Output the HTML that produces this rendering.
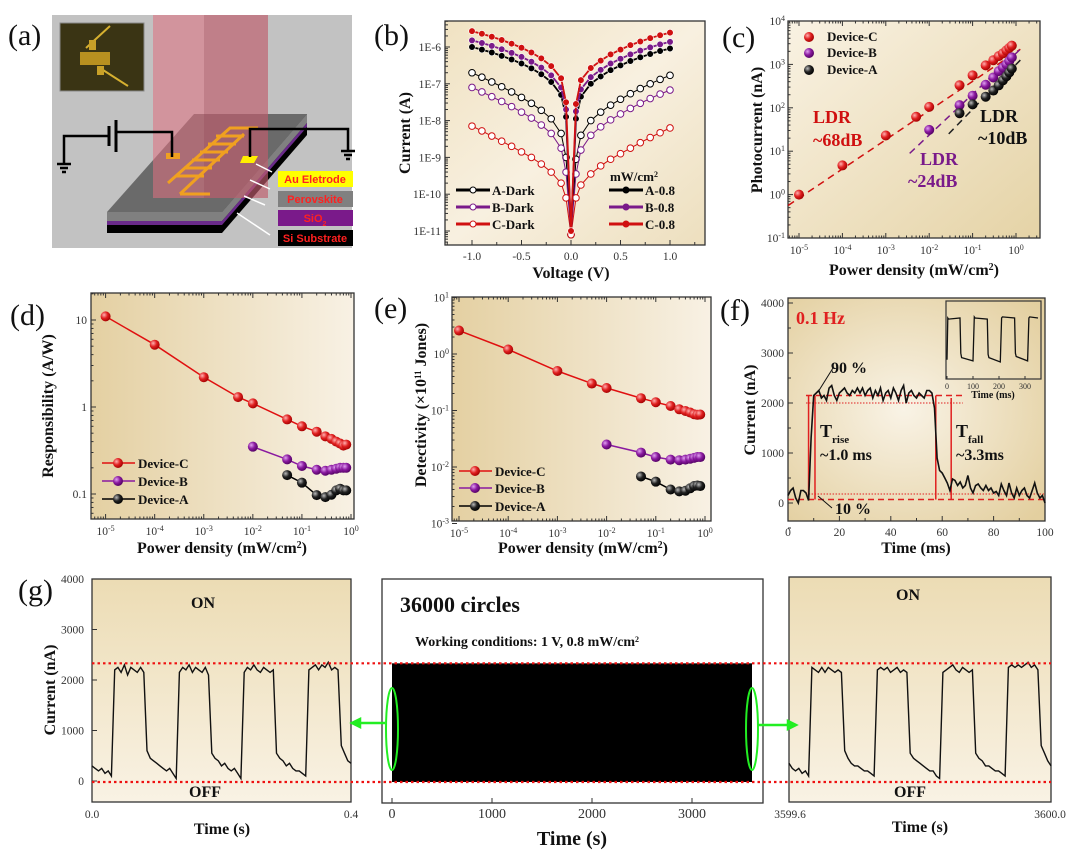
<!DOCTYPE html>
<html><head><meta charset="utf-8"><style>
html,body{margin:0;padding:0;background:#fff;}
svg{display:block;font-family:"Liberation Serif",serif;}
.tk{font-size:11.5px;fill:#333;}
.tt{font-size:16px;font-weight:bold;fill:#111;}
.pl{font-size:30px;fill:#111;}
.lg{font-size:13px;font-weight:bold;fill:#111;}
</style></head><body>
<svg id="fig" width="1080" height="856" viewBox="0 0 1080 856">
<defs>
<linearGradient id="bgB" x1="0" y1="0" x2="1" y2="1"><stop offset="0" stop-color="#f0e2c2"/><stop offset="0.5" stop-color="#f8f0e0"/><stop offset="1" stop-color="#eddfbe"/></linearGradient>
<linearGradient id="bgC" x1="0" y1="0" x2="1" y2="1"><stop offset="0" stop-color="#f9f2e3"/><stop offset="1" stop-color="#e5d3a6"/></linearGradient>
<linearGradient id="bgD" x1="0" y1="0" x2="1" y2="0"><stop offset="0" stop-color="#e4d0a2"/><stop offset="1" stop-color="#f8f1e4"/></linearGradient>
<radialGradient id="bgF" cx="0.45" cy="0.5" r="0.7"><stop offset="0" stop-color="#f9f3e6"/><stop offset="1" stop-color="#e3cf9f"/></radialGradient>
<linearGradient id="bgG" x1="0" y1="0" x2="0" y2="1"><stop offset="0" stop-color="#ecdcb4"/><stop offset="1" stop-color="#f9f2e4"/></linearGradient>
<radialGradient id="ballR" cx="0.35" cy="0.35" r="0.7"><stop offset="0" stop-color="#ffb0b0"/><stop offset="0.5" stop-color="#e02020"/><stop offset="1" stop-color="#a00000"/></radialGradient>
<radialGradient id="ballP" cx="0.35" cy="0.35" r="0.7"><stop offset="0" stop-color="#e0a0f0"/><stop offset="0.5" stop-color="#8a1aa0"/><stop offset="1" stop-color="#500060"/></radialGradient>
<radialGradient id="ballK" cx="0.35" cy="0.35" r="0.7"><stop offset="0" stop-color="#bbbbbb"/><stop offset="0.5" stop-color="#222"/><stop offset="1" stop-color="#000"/></radialGradient>
</defs>

<g>
<rect x="52" y="15" width="300" height="233" fill="#c2c2c2"/>
<rect x="60" y="23" width="84" height="68" fill="#3a3414" stroke="#888" stroke-width="1"/>
<path d="M86 48 L110 26 M103 70 L128 86" stroke="#d6b030" stroke-width="2"/>
<rect x="80" y="52" width="30" height="13" fill="#b89020"/>
<rect x="89" y="40" width="7" height="10" fill="#c8a028"/><rect x="97" y="66" width="7" height="9" fill="#c8a028"/>
<polygon points="107,212 194,114 307,114 222,212" fill="#6a6a6a"/>
<polygon points="107,212 222,212 222,233 107,233" fill="#000"/>
<polygon points="107,212 222,212 222,221 107,221" fill="#808080"/>
<polygon points="107,221 222,221 222,225 107,225" fill="#6a2a8a"/>
<polygon points="222,212 307,114 307,135 222,233" fill="#000"/>
<polygon points="222,212 307,114 307,123 222,221" fill="#808080"/>
<polygon points="222,221 307,123 307,127 222,225" fill="#6a2a8a"/>
<rect x="153" y="15" width="115" height="183" fill="#e07080" opacity="0.55"/>
<rect x="204" y="15" width="64" height="183" fill="#8a4050" opacity="0.25"/>
<g stroke="#f0a020" stroke-width="3" fill="none">
<path d="M168 183 L230 128 L258 128"/>
<path d="M180 194 L244 134"/>
<path d="M176 176 L204 176 M184 168 L212 168 M192 160 L220 160 M200 152 L228 152 M208 144 L236 144 M216 136 L244 136"/>
<path d="M180 194 L210 194"/>
</g>
<rect x="166" y="153" width="14" height="6" fill="#f0a020"/>
<polygon points="243,156 258,156 254,163 240,163" fill="#ffee00"/>
<path d="M64 163 L64 136 L109 136 M116 132 L172 132 L172 157 M250 157 L250 129 L348 129 L348 150" stroke="#000" stroke-width="2.5" fill="none"/>
<path d="M109 126 L109 146 M116 120 L116 152" stroke="#000" stroke-width="3"/>
<path d="M57 164 L71 164 M60 168 L68 168 M62 172 L66 172 M341 151 L355 151 M344 155 L352 155 M346 159 L350 159" stroke="#000" stroke-width="2.5"/>
<path d="M272 172 L256 164 M270 189 L250 180 M265 205 L244 196 M270 235 L237 213" stroke="#fff" stroke-width="1.5"/>
<rect x="278" y="171" width="75" height="16" fill="#ffff00"/>
<rect x="278" y="191" width="75" height="16" fill="#808080"/>
<rect x="278" y="210" width="75" height="16" fill="#7a1a8a"/>
<rect x="278" y="230" width="75" height="16" fill="#000"/>
<g font-family="Liberation Sans, sans-serif" font-size="11" font-weight="bold" fill="#ff2020" text-anchor="middle">
<text x="315" y="183">Au Eletrode</text>
<text x="315" y="203">Perovskite</text>
<text x="315" y="222">SiO<tspan font-size="7" baseline-shift="sub">2</tspan></text>
<text x="315" y="242">Si Substrate</text>
</g>
</g>

<g class="pl">
<text x="8" y="45">(a)</text>
<text x="374" y="45">(b)</text>
<text x="722" y="47">(c)</text>
<text x="10" y="325">(d)</text>
<text x="374" y="318">(e)</text>
<text x="720" y="320">(f)</text>
<text x="18" y="600">(g)</text>
</g>
<g id="charts"></g>
</svg>
<script>
// ---------- data ----------
const bVolt=[-1,-0.9,-0.8,-0.7,-0.6,-0.5,-0.4,-0.3,-0.2,-0.1,-0.05,0,0.05,0.1,0.2,0.3,0.4,0.5,0.6,0.7,0.8,0.9,1];
const bA08=[-6.0,-6.07,-6.15,-6.24,-6.34,-6.45,-6.58,-6.74,-6.95,-7.3,-7.9,-11,-7.95,-7.35,-7.0,-6.8,-6.63,-6.5,-6.38,-6.28,-6.19,-6.11,-6.04];
const bB08=[-5.82,-5.89,-5.97,-6.06,-6.16,-6.27,-6.4,-6.56,-6.77,-7.1,-7.7,-11,-7.75,-7.15,-6.82,-6.62,-6.45,-6.32,-6.2,-6.1,-6.01,-5.93,-5.86];
const bC08=[-5.57,-5.64,-5.72,-5.81,-5.91,-6.02,-6.15,-6.31,-6.52,-6.85,-7.5,-11,-7.55,-6.9,-6.57,-6.37,-6.2,-6.07,-5.95,-5.85,-5.76,-5.68,-5.61];
const bADark=[-6.7,-6.82,-6.95,-7.08,-7.22,-7.37,-7.53,-7.72,-7.95,-8.35,-9.0,-11.1,-9.05,-8.4,-8.0,-7.77,-7.58,-7.42,-7.27,-7.13,-7.0,-6.88,-6.77];
const bBDark=[-7.1,-7.22,-7.35,-7.48,-7.62,-7.77,-7.93,-8.12,-8.35,-8.75,-9.4,-11.1,-9.45,-8.8,-8.4,-8.17,-7.98,-7.82,-7.67,-7.53,-7.4,-7.28,-7.17];
const bCDark=[-8.15,-8.28,-8.42,-8.56,-8.7,-8.85,-9.0,-9.18,-9.4,-9.7,-10.1,-11.1,-10.1,-9.75,-9.45,-9.23,-9.05,-8.9,-8.75,-8.6,-8.46,-8.33,-8.2];
const bYTicks=["1E-6","1E-7","1E-8","1E-9","1E-10","1E-11"];
const bXTicks=["-1.0","-0.5","0.0","0.5","1.0"];

const powC=[1e-5,1e-4,1e-3,5e-3,1e-2,5e-2,0.1,0.2,0.3,0.4,0.5,0.6,0.7,0.8];
const powB=[0.01,0.05,0.1,0.2,0.3,0.4,0.5,0.6,0.7,0.8];
const powA=[0.05,0.1,0.2,0.3,0.4,0.5,0.6,0.7,0.8];
const photoC=[1,4.7,23,62,105,330,560,950,1250,1550,1800,2100,2400,2700];
const photoB=[31,115,190,340,500,700,850,1000,1200,1450];
const photoA=[75,120,180,250,330,430,530,650,800];
const respC=[11,5.2,2.2,1.3,1.1,0.72,0.6,0.52,0.46,0.43,0.40,0.38,0.36,0.37];
const respB=[0.35,0.25,0.21,0.19,0.185,0.19,0.195,0.2,0.2,0.2];
const respA=[0.165,0.135,0.097,0.092,0.098,0.11,0.115,0.11,0.11];
const detC=[2.6,1.2,0.5,0.3,0.25,0.165,0.14,0.12,0.105,0.098,0.092,0.086,0.084,0.085];
const detB=[0.025,0.018,0.015,0.0135,0.0132,0.0135,0.014,0.0145,0.015,0.015];
const detA=[0.0068,0.0055,0.004,0.0037,0.0038,0.0042,0.0046,0.0047,0.0046];

const fTime=[0,1,2,3,4,5,6,7,8,9,10,11,12,13,14,15,16,17,18,19,20,21,22,23,24,25,26,27,28,29,30,31,32,33,34,35,36,37,38,39,40,41,42,43,44,45,46,47,48,49,50,51,52,53,54,55,56,57,58,59,60,61,62,63,64,65,66,67,68,69,70,71,72,73,74,75,76,77,78,79,80,81,82,83,84,85,86,87,88,89,90,91,92,93,94,95,96,97,98,99,100];
const fCurr=[150,250,300,100,0,250,250,200,50,1300,2150,2200,2250,2100,2150,2050,2300,2350,2150,2050,2200,2250,2300,2200,2150,2250,2200,2300,2200,2300,2150,2250,2300,2100,2250,2150,2300,2050,2200,2250,2100,2300,2200,2050,2250,2350,2000,2200,2250,2150,2100,2200,2150,2100,2250,2250,2200,1900,900,650,600,500,400,250,480,450,350,420,300,350,550,300,200,350,380,300,250,350,250,300,200,230,150,380,250,150,400,200,100,300,150,250,300,150,100,250,400,200,100,150,0];
const insetTime=[0,3,6,50,53,56,100,105,108,155,158,161,205,210,213,260,263,266,310,315,318,350];
const insetCurr=[300,2200,2150,2200,600,400,250,2250,2200,2150,550,400,200,2200,2250,2200,600,450,250,2200,2250,2200];
const fYTicks=[0,1000,2000,3000,4000];
const fXTicks=[0,20,40,60,80,100];

const gTime=[0,0.005,0.01,0.015,0.02,0.025,0.03,0.035,0.04,0.045,0.05,0.055,0.06,0.065,0.07,0.075,0.08,0.085,0.09,0.095,0.1,0.105,0.11,0.115,0.12,0.125,0.13,0.135,0.14,0.145,0.15,0.155,0.16,0.165,0.17,0.175,0.18,0.185,0.19,0.195,0.2,0.205,0.21,0.215,0.22,0.225,0.23,0.235,0.24,0.245,0.25,0.255,0.26,0.265,0.27,0.275,0.28,0.285,0.29,0.295,0.3,0.305,0.31,0.315,0.32,0.325,0.33,0.335,0.34,0.345,0.35,0.355,0.36,0.365,0.37,0.375,0.38,0.385,0.39,0.395,0.4];
const gLeftCurr=[300,250,200,250,150,200,100,2200,2250,2150,2300,2100,2250,2200,2150,2250,2150,600,450,400,350,300,250,200,250,150,50,2150,2250,2200,2300,2150,2250,2200,2150,2250,2100,550,450,400,300,350,250,200,250,150,50,2150,2250,2200,2300,2200,2150,2250,2200,2150,2200,550,450,400,300,350,250,200,200,150,100,2200,2250,2300,2200,2300,2250,2350,2200,2250,2200,700,550,400,350];
const gRightCurr=[350,250,200,250,150,200,100,2250,2200,2150,2250,2150,2250,2200,2150,2200,2150,600,450,350,300,300,250,200,200,150,100,2200,2250,2200,2250,2150,2200,2250,2150,2200,2150,550,450,400,350,300,250,200,200,100,50,2150,2200,2250,2300,2200,2150,2250,2200,2150,2200,550,450,400,300,300,250,200,200,150,100,2250,2300,2250,2300,2250,2300,2350,2250,2300,2200,700,550,400,300];
const gMidSpan=[0,3600];
const gMidBand=[-20,2330];
const gYTicks=[0,1000,2000,3000,4000];
const gMidXTicks=[0,1000,2000,3000];
const gLevels=[2330,-20];

// ---------- helpers ----------
const NS='http://www.w3.org/2000/svg';
const root=document.getElementById('charts');
function mk(tag,attrs,parent){const e=document.createElementNS(NS,tag);for(const k in attrs)e.setAttribute(k,attrs[k]);(parent||root).appendChild(e);return e;}
function txt(s,x,y,cls,parent,anchor){const t=mk('text',{x:x,y:y,class:cls,'text-anchor':anchor||'middle'},parent);t.textContent=s;return t;}
function sup(t,s,size){const sp=mk('tspan',{'baseline-shift':'super'},t);sp.style.fontSize=(size||9)+'px';sp.textContent=s;return sp;}
function more(t,s){const sp=mk('tspan',{},t);sp.textContent=s;return sp;}
const L=Math.log10;
function lin(d0,p0,d1,p1){return v=>p0+(v-d0)*(p1-p0)/(d1-d0);}
function lg(d0,p0,d1,p1){const f=lin(L(d0),p0,L(d1),p1);return v=>f(L(v));}
function frame(g,x0,y0,x1,y1,fill){mk('rect',{x:x0,y:y0,width:x1-x0,height:y1-y0,fill:fill,stroke:'#333','stroke-width':1.3},g);}
function logTicksX(g,sx,lo,hi,y0,y1,labels){
  for(let p=lo;p<=hi;p++){for(let m=1;m<10;m++){const v=m*Math.pow(10,p);const x=sx(v);if(x<sx.min||x>sx.max)continue;const len=m===1?5:2.5;mk('line',{x1:x,y1:y1,x2:x,y2:y1-len,stroke:'#333'},g);mk('line',{x1:x,y1:y0,x2:x,y2:y0+len,stroke:'#333'},g);}
   if(labels&&sx(Math.pow(10,p))>=sx.min-1&&sx(Math.pow(10,p))<=sx.max+1){const t=txt('10',sx(Math.pow(10,p)),y1+16,'tk',g);sup(t,String(p),8);}}
}
function logTicksY(g,sy,lo,hi,x0,x1,fmt){
  for(let p=lo;p<=hi;p++){for(let m=1;m<10;m++){const v=m*Math.pow(10,p);const y=sy(v);if(y<sy.min||y>sy.max)continue;const len=m===1?5:2.5;mk('line',{x1:x0,y1:y,x2:x0+len,y2:y,stroke:'#333'},g);}
   const y=sy(Math.pow(10,p));if(y>=sy.min-1&&y<=sy.max+1){if(fmt){txt(fmt(p),x0-4,y+4,'tk',g,'end');}else{const t=txt('10',x0-3,y+4,'tk',g,'end');sup(t,String(p),8);}}}
}
function path(g,xs,ys,sx,sy,attrs){let d='';for(let i=0;i<xs.length;i++)d+=(i?'L':'M')+sx(xs[i]).toFixed(1)+' '+sy(ys[i]).toFixed(1);return mk('path',Object.assign({d:d,fill:'none'},attrs),g);}
function ytitle(s,x,y,g){const t=txt(s,x,y,'tt',g);t.setAttribute('transform','rotate(-90 '+x+' '+y+')');return t;}
function pdTitle(g,x,y){const t=txt('Power density (mW/cm',x,y,'tt',g);sup(t,'2',10);more(t,')');return t;}

// ---------- (b) ----------
{
const g=mk('g',{});


frame(g,445,21,705,245,'url(#bgB)');
const sx=lin(0,571,1,670);const sy=lin(-11,231,-6,47);
bXTicks.forEach(s=>{const v=parseFloat(s);const x=sx(v);mk('line',{x1:x,y1:245,x2:x,y2:240,stroke:'#333'},g);txt(s,x,260,'tk',g);});
for(let v=-1.25;v<=1.3;v+=0.25){mk('line',{x1:sx(v),y1:245,x2:sx(v),y2:242,stroke:'#333'},g);}
bYTicks.forEach((s,i)=>{const y=sy(-6-i);mk('line',{x1:445,y1:y,x2:450,y2:y,stroke:'#333'},g);txt(s,441,y+4,'tk',g,'end');});
for(let p=-12;p<=-5;p++)for(let m=2;m<10;m++){const y=sy(p+L(m));if(y>21&&y<245)mk('line',{x1:445,y1:y,x2:448,y2:y,stroke:'#333'},g);}
const series=[[bADark,'#000',true,'a-dark'],[bBDark,'#7a1a8a',true,'b-dark'],[bCDark,'#d01010',true,'c-dark'],[bA08,'#000',false,'a-0.8'],[bB08,'#7a1a8a',false,'b-0.8'],[bC08,'#d01010',false,'c-0.8']];
series.forEach(([vals,col,open,nm])=>{
 const p=path(g,bVolt,vals,sx,sy,{stroke:col,'stroke-width':open?1:1.8});
 
 
 bVolt.forEach((v,i)=>{const c=mk('circle',{cx:sx(v),cy:sy(vals[i]),r:3.3,fill:open?'#fff':col,stroke:open?col:'#fff','stroke-width':open?1:0.6},g);
  
  });
});
const leg=[['A-Dark','#000',456,190,true],['B-Dark','#7a1a8a',456,207,true],['C-Dark','#d01010',456,224,true],['A-0.8','#000',609,190,false],['B-0.8','#7a1a8a',609,207,false],['C-0.8','#d01010',609,224,false]];
leg.forEach(([s,c,x,y,o])=>{const lg2=mk('g',{},g);
 
 
 mk('line',{x1:x,y1:y,x2:x+34,y2:y,stroke:c,'stroke-width':3},lg2);mk('circle',{cx:x+17,cy:y,r:3,fill:o?'#fff':c,stroke:c},lg2);txt(s,x+36,y+5,'lg',lg2,'start');});
const u=txt('mW/cm',634,181,'lg',g);sup(u,'2',8);
txt('Voltage (V)',571,278,'tt',g);ytitle('Current (A)',410,133,g);
}

// ---------- (c) ----------
{
const g=mk('g',{});


frame(g,788,21,1040,238,'url(#bgC)');
const sx=lg(1e-5,799,1,1016);sx.min=788;sx.max=1040;const sy=lg(0.1,238,1e4,21);sy.min=21;sy.max=238;
logTicksX(g,sx,-6,0,21,238,true);logTicksY(g,sy,-1,4,788,1040);
const fits=[[[-5.25,0.1],[-0.25,3.35],'#d01010'],[[-2.45,0.1],[0.95,3.35],'#7a1a8a'],[[-1.55,0.1],[1.4,3.1],'#222']];
fits.forEach(([xs,ys,c],i)=>{const p=mk('line',{x1:sx(Math.pow(10,xs[0])),y1:sy(Math.pow(10,ys[0])),x2:sx(Math.pow(10,xs[1])),y2:sy(Math.pow(10,ys[1])),stroke:c,'stroke-width':1.5,'stroke-dasharray':'7 5'},g);
 
 });
[[powC,photoC,'ballR','device-c'],[powB,photoB,'ballP','device-b'],[powA,photoA,'ballK','device-a']].forEach(([xs,ys,f,nm])=>{xs.forEach((x,i)=>{const c=mk('circle',{cx:sx(x),cy:sy(ys[i]),r:5,fill:'url(#'+f+')'},g);
 
 });});
[['Device-C','ballR',37],['Device-B','ballP',53],['Device-A','ballK',70]].forEach(([s,f,y])=>{const e=mk('g',{},g);
 
 
 mk('circle',{cx:809,cy:y,r:5,fill:'url(#'+f+')'},e);txt(s,827,y+4,'lg',e,'start');});
const tl=[['LDR',813,123,'#d01010'],['~68dB',813,146,'#d01010'],['LDR',920,165,'#7a1a8a'],['~24dB',908,187,'#7a1a8a'],['LDR',980,122,'#111'],['~10dB',978,144,'#111']];
tl.forEach(([s,x,y,c])=>{const t=txt(s,x,y,'tt',g,'start');t.style.fill=c;t.style.fontSize='18px';});
pdTitle(g,914,275);
ytitle('Photocurrent (nA)',762,130,g);
}

// ---------- (d) ----------
{
const g=mk('g',{});


frame(g,91,293,354,519,'url(#bgD)');
const sx=lg(1e-5,105.6,1,351);sx.min=91;sx.max=354;const sy=lg(1,407,10,320);sy.min=293;sy.max=519;
logTicksX(g,sx,-6,0,293,519,true);logTicksY(g,sy,-2,1,91,354,p=>p===1?'10':p===0?'1':p===-1?'0.1':'0.01');
[[powC,respC,'#e01010','ballR','device-c'],[powB,respB,'#8a1aa0','ballP','device-b'],[powA,respA,'#000','ballK','device-a']].forEach(([xs,ys,c,f,nm])=>{
 const p=path(g,xs,ys,sx,sy,{stroke:c,'stroke-width':1.5});
 
 
 xs.forEach((x,i)=>{const m=mk('circle',{cx:sx(x),cy:sy(ys[i]),r:5,fill:'url(#'+f+')'},g);
  
  });});
[['Device-C','#e01010','ballR',463],['Device-B','#8a1aa0','ballP',481],['Device-A','#000','ballK',499]].forEach(([s,c,f,y])=>{const e=mk('g',{},g);
 
 
 mk('line',{x1:102,y1:y,x2:135,y2:y,stroke:c,'stroke-width':1.5},e);mk('circle',{cx:118,cy:y,r:5,fill:'url(#'+f+')'},e);txt(s,138,y+5,'lg',e,'start');});
pdTitle(g,222,553);
ytitle('Responsibility (A/W)',53,406,g);
}

// ---------- (e) ----------
{
const g=mk('g',{});


frame(g,452,297,711,521,'url(#bgD)');
const sx=lg(1e-5,459,1,705);sx.min=452;sx.max=711;const sy=lg(1,354,0.1,410.5);sy.min=297;sy.max=525;
logTicksX(g,sx,-6,0,297,521,true);logTicksY(g,sy,-3,1,452,711);
[[powC,detC,'#e01010','ballR','device-c'],[powB,detB,'#8a1aa0','ballP','device-b'],[powA,detA,'#000','ballK','device-a']].forEach(([xs,ys,c,f,nm])=>{
 const p=path(g,xs,ys,sx,sy,{stroke:c,'stroke-width':1.5});
 
 
 xs.forEach((x,i)=>{const m=mk('circle',{cx:sx(x),cy:sy(ys[i]),r:5,fill:'url(#'+f+')'},g);
  
  });});
[['Device-C','#e01010','ballR',471],['Device-B','#8a1aa0','ballP',488],['Device-A','#000','ballK',506]].forEach(([s,c,f,y])=>{const e=mk('g',{},g);
 
 
 mk('line',{x1:459,y1:y,x2:492,y2:y,stroke:c,'stroke-width':1.5},e);mk('circle',{cx:475,cy:y,r:5,fill:'url(#'+f+')'},e);txt(s,495,y+5,'lg',e,'start');});
pdTitle(g,583,553);
const yt=ytitle('Detectivity (×10',426,405,g);sup(yt,'11',9);more(yt,' Jones)');
}

// ---------- (f) ----------
{
const g=mk('g',{});


frame(g,788,298,1045,521,'url(#bgF)');
const sx=lin(0,788,100,1045);const sy=lin(0,503,4000,303);
fYTicks.forEach(v=>{const y=sy(v);mk('line',{x1:788,y1:y,x2:793,y2:y,stroke:'#333'},g);txt(String(v),784,y+4,'tk',g,'end');});
for(let v=-500;v<4000;v+=500){if(v%1000)mk('line',{x1:788,y1:sy(v),x2:791,y2:sy(v),stroke:'#333'},g);}
fXTicks.forEach(v=>{const x=sx(v);mk('line',{x1:x,y1:521,x2:x,y2:516,stroke:'#333'},g);txt(String(v),x,536,'tk',g);});
for(let v=10;v<100;v+=20)mk('line',{x1:sx(v),y1:521,x2:sx(v),y2:518,stroke:'#333'},g);
const R='#e02020';
mk('line',{x1:sx(7),y1:sy(2150),x2:sx(69),y2:sy(2150),stroke:R,'stroke-width':1.5,'stroke-dasharray':'6 4'},g);
mk('line',{x1:sx(7),y1:sy(2000),x2:sx(68),y2:sy(2000),stroke:R,'stroke-width':1,'stroke-dasharray':'1.5 1.5'},g);
mk('line',{x1:sx(0),y1:sy(70),x2:sx(100),y2:sy(70),stroke:R,'stroke-width':1.5,'stroke-dasharray':'6 4'},g);
mk('line',{x1:sx(8),y1:sy(180),x2:sx(100),y2:sy(180),stroke:R,'stroke-width':1,'stroke-dasharray':'1.5 1.5'},g);
[[8,2150],[10.5,2150],[57.5,2150],[63.5,2100]].forEach(([t,v])=>mk('line',{x1:sx(t),y1:sy(70),x2:sx(t),y2:sy(v),stroke:R,'stroke-width':1.5},g));
const p=path(g,fTime,fCurr,sx,sy,{stroke:'#111','stroke-width':1.6});


const hz=txt('0.1 Hz',796,324,'tt',g,'start');hz.style.fill=R;hz.style.fontSize='18px';
txt('90 %',831,373,'tt',g,'start');txt('10 %',835,514,'tt',g,'start');
mk('path',{d:'M833 368 L818 392 M832 508 L818 496',stroke:'#111','stroke-width':1},g);
const tr=txt('T',820,437,'tt',g,'start');tr.style.fontSize='18px';const trs=mk('tspan',{'baseline-shift':'sub'},tr);trs.style.fontSize='11px';trs.textContent='rise';
txt('~1.0 ms',820,460,'tt',g,'start');
const tf=txt('T',956,437,'tt',g,'start');tf.style.fontSize='18px';const tfs=mk('tspan',{'baseline-shift':'sub'},tf);tfs.style.fontSize='11px';tfs.textContent='fall';
txt('~3.3ms',956,460,'tt',g,'start');
txt('Time (ms)',916,553,'tt',g);ytitle('Current (nA)',755,410,g);
const ig=mk('g',{},g);


mk('rect',{x:946,y:301,width:95,height:78,fill:'none',stroke:'#333','stroke-width':1.2},ig);
const ix=lin(0,947,300,1025);const iy=lin(200,362,2200,318);
const ip=path(ig,insetTime,insetCurr,ix,iy,{stroke:'#111','stroke-width':1.3});


[0,100,200,300].forEach(v=>{mk('line',{x1:ix(v),y1:379,x2:ix(v),y2:376,stroke:'#333'},ig);const t=txt(String(v),ix(v),389,'tk',ig);t.style.fontSize='8px';});
const it=txt('Time (ms)',993,398,'tt',ig);it.style.fontSize='10px';
}

// ---------- (g) ----------
{
const g=mk('g',{});


const sy=lin(0,781,4000,579);
frame(g,92,579,351,802,'url(#bgG)');
const sxl=lin(0,92,0.4,351);
gYTicks.forEach(v=>{const y=sy(v);mk('line',{x1:92,y1:y,x2:97,y2:y,stroke:'#333'},g);txt(String(v),84,y+4,'tk',g,'end');});
const pl=path(g,gTime,gLeftCurr,sxl,sy,{stroke:'#111','stroke-width':1.4});


txt('0.0',92,818,'tk',g);txt('0.4',351,818,'tk',g);
txt('ON',203,608,'tt',g);txt('OFF',205,797,'tt',g);
txt('Time (s)',222,834,'tt',g);ytitle('Current (nA)',55,690,g);
mk('rect',{x:382,y:579,width:381,height:224,fill:'#fff',stroke:'#333','stroke-width':1.3},g);
const sxm=lin(0,392,1000,492);
const blk=mk('rect',{x:sxm(gMidSpan[0]),y:sy(gMidBand[1]),width:sxm(gMidSpan[1])-sxm(gMidSpan[0]),height:sy(gMidBand[0])-sy(gMidBand[1]),fill:'#000'},g);


gMidXTicks.forEach(v=>{const x=sxm(v);mk('line',{x1:x,y1:803,x2:x,y2:798,stroke:'#333'},g);const t=txt(String(v),x,818,'tk',g);t.style.fontSize='14px';});
const t36=txt('36000 circles',400,612,'tt',g,'start');t36.style.fontSize='22px';
const wc=txt('Working conditions: 1 V, 0.8 mW/cm',415,646,'tt',g,'start');wc.style.fontSize='14px';sup(wc,'2',8);
const tm=txt('Time (s)',572,845,'tt',g);tm.style.fontSize='20px';
frame(g,789,577,1051,802,'url(#bgG)');
const sxr=lin(0,789,0.4,1051);
const pr=path(g,gTime,gRightCurr,sxr,sy,{stroke:'#111','stroke-width':1.4});


txt('3599.6',790,818,'tk',g);txt('3600.0',1050,818,'tk',g);
txt('ON',908,600,'tt',g);txt('OFF',910,797,'tt',g);txt('Time (s)',920,832,'tt',g);
gLevels.forEach(v=>{const l=mk('line',{x1:92,y1:sy(v),x2:1051,y2:sy(v),stroke:'#ee1010','stroke-width':2.2,'stroke-dasharray':'2.5 3'},g);
 
 });
mk('ellipse',{cx:392,cy:729,rx:6,ry:41,fill:'none',stroke:'#22ee22','stroke-width':2},g);
mk('ellipse',{cx:752,cy:729,rx:6,ry:41,fill:'none',stroke:'#22ee22','stroke-width':2},g);
mk('path',{d:'M385 723 L352 723 M352 723 L360 719 L360 727 Z',stroke:'#22ee22','stroke-width':2.5,fill:'#22ee22'},g);
mk('path',{d:'M758 725 L796 725 M796 725 L788 721 L788 729 Z',stroke:'#22ee22','stroke-width':2.5,fill:'#22ee22'},g);
}
</script>
</body></html>
